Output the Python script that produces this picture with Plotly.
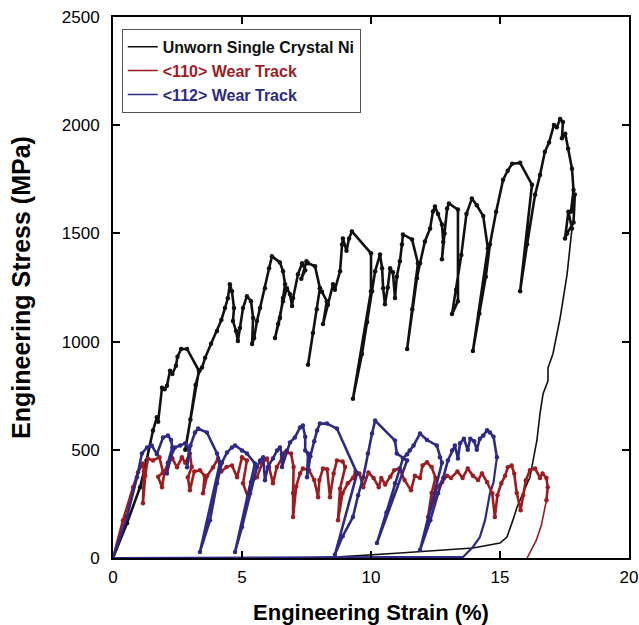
import plotly.graph_objects as go

# ---------------- data ----------------
# Unworn single crystal Ni: serrated loading part
unworn_strain = [0, 0.54, 1.05, 1.3, 1.55, 1.7, 1.75, 1.9, 2.0, 2.09, 2.21, 2.3, 2.44, 2.5, 2.64, 2.87, 3.33,
                 2.8, 3.0, 3.2, 3.35, 3.45, 3.57, 3.8, 4.03, 4.2, 4.34, 4.45, 4.53, 4.61, 4.69, 4.65, 4.77, 4.84,
                 4.92, 5.04, 5.19, 5.35, 5.43, 5.39, 5.47, 5.58, 5.70, 5.89, 6.05, 6.16, 6.47, 6.59, 6.67, 6.59,
                 6.47, 6.28, 6.40, 6.59, 6.74, 6.86, 6.94, 6.98, 7.17, 7.33, 7.45, 7.3, 7.5, 7.56, 7.83, 8.02,
                 7.56, 7.75, 7.9, 8.02, 8.1, 8.29, 8.14, 8.33, 8.53, 8.6, 8.8, 8.88, 8.91, 9.05, 9.15, 9.26,
                 10.0, 10.0, 9.30, 9.65, 9.85, 10.04, 10.16, 10.35, 10.43, 10.47, 10.54, 10.65, 10.74, 10.85,
                 10.93, 11.0, 11.12, 11.2, 11.24, 11.59, 11.82, 11.4, 11.6, 11.78, 11.9, 12.09, 12.29, 12.4,
                 12.48, 12.6, 12.75, 12.8, 12.75, 12.85, 12.95, 13.02, 13.37, 13.37, 13.14, 13.3, 13.5, 13.7,
                 13.91, 14.1, 14.35, 14.53, 13.95, 14.2, 14.45, 14.61, 14.85, 15.12, 15.3, 15.47, 15.78, 16.24,
                 15.78, 16.05, 16.36, 16.55, 16.74, 16.9, 17.09, 17.2, 17.33, 17.44, 17.4, 17.53, 17.64, 17.79,
                 17.85, 17.75, 17.9, 17.85, 17.6, 17.52, 17.65, 17.79]
unworn_stress = [0, 161, 327, 450, 589, 650, 630, 787, 780, 796, 865, 850, 888, 930, 966, 966, 865,
                 500, 640, 800, 865, 880, 925, 990, 1049, 1100, 1155, 1200, 1265, 1233, 1155, 1095, 1049, 1003,
                 1063, 1155, 1210, 1187, 1109, 989, 1017, 1095, 1155, 1247, 1339, 1394, 1366, 1325, 1265, 1201,
                 1109, 1017, 1081, 1187, 1247, 1219, 1164, 1201, 1311, 1362, 1330, 1290, 1371, 1362, 1348, 1247,
                 893, 1040, 1150, 1247, 1230, 1187, 1081, 1170, 1265, 1240, 1325, 1449, 1477, 1420, 1477, 1509,
                 1408, 1233, 736, 943, 1090, 1233, 1325, 1403, 1339, 1247, 1173, 1250, 1339, 1320,
                 1201, 1300, 1371, 1449, 1495, 1472, 1362, 966, 1150, 1293, 1362, 1463, 1523, 1601,
                 1624, 1590, 1541, 1460, 1380, 1500, 1615, 1638, 1610, 1187, 1127, 1240, 1400, 1590,
                 1661, 1630, 1580, 1431, 957, 1130, 1300, 1449, 1600, 1748, 1790, 1822, 1826, 1725,
                 1233, 1450, 1679, 1770, 1877, 1920, 2001, 1990, 2029, 2015, 1940, 1960, 1891, 1799,
                 1700, 1600, 1680, 1550, 1500, 1477, 1600, 1523]
# Unworn: final unloading branch
unworn_unload_strain = [17.79, 17.6, 17.33, 17.05, 16.86, 16.86, 16.67, 16.55, 16.43, 16.28, 16.16,
                        15.89, 15.66, 15.5, 15.27, 15.0, 13.95, 11.12, 8.8, 7.25]
unworn_unload_stress = [1523, 1311, 1109, 943, 879, 819, 759, 667, 543, 451, 373,
                        299, 235, 175, 97, 69, 46, 23, 5, 0]

# <110> wear track
w110_strain = [0, 0.39, 0.78, 0.97, 1.16, 1.2, 1.16, 1.25, 1.35, 1.55, 1.8, 1.94, 1.75, 1.9, 2.0, 2.13, 2.3,
               2.48, 2.67, 2.8, 2.98, 3.05, 2.9, 2.98, 3.15, 3.37, 3.55, 3.49, 3.65, 3.88, 4.07, 4.2, 4.4,
               4.61, 4.81, 5.0, 5.19, 5.04, 5.23, 5.35, 5.58, 5.78, 5.97, 6.05, 6.2, 6.35, 6.55, 6.67, 6.9,
               7.0, 6.98, 6.98, 7.1, 7.25, 7.36, 7.6, 7.8, 7.95, 8.0, 8.14, 8.3, 8.41, 8.55, 8.68, 8.9, 9.0,
               8.8, 8.72, 8.9, 9.1, 9.3, 9.4, 9.55, 9.7, 9.9, 10.1, 10.3, 10.4, 10.55, 10.75, 10.9, 11.1,
               11.3, 11.55, 11.7, 11.9, 12.0, 12.17, 12.35, 12.5, 12.35, 12.21, 12.45, 12.55, 12.75, 12.95,
               13.1, 13.35, 13.55, 13.75, 13.95, 14.15, 14.3, 14.5, 14.7, 14.8, 14.9, 15.05, 15.2, 15.3,
               15.45, 15.55, 15.65, 15.8, 15.9, 16.0, 16.16, 16.36, 16.55, 16.65, 16.8, 16.85, 16.8]
w110_stress = [0, 175, 327, 396, 437, 400, 253, 380, 460, 451, 465, 396, 375, 327, 400, 437, 460,
               419, 465, 440, 483, 420, 373, 313, 400, 405, 380, 299, 380, 419, 460, 400, 420,
               428, 373, 465, 450, 345, 281, 350, 373, 437, 460, 420, 345, 420, 465, 488, 483,
               420, 300, 189, 330, 391, 414, 405, 360, 281, 360, 414, 410, 281, 390, 451, 446, 420,
               320, 175, 300, 345, 370, 400, 390, 327, 395, 370, 327, 370, 340, 375, 405, 414,
               360, 313, 380, 370, 428, 442, 420, 370, 300, 189, 267, 327, 350, 380,
               370, 400, 370, 414, 380, 360, 391, 350, 299, 189, 290, 345, 380, 419,
               428, 391, 300, 221, 290, 359, 405, 414, 370, 391, 370, 327, 267]
w110_unload_strain = [16.8, 16.6, 16.4, 16.05]
w110_unload_stress = [267, 150, 80, 0]

# <112> wear track
w112_strain = [0, 0.54, 0.93, 1.12, 1.32, 1.5, 1.7, 1.94, 2.13, 2.25, 2.3, 2.13, 2.09, 2.25, 2.4, 2.6, 2.8,
               2.95, 2.87, 3.0, 3.18, 3.3, 3.64, 4.03, 4.15, 3.37, 3.76, 4.03, 4.22, 4.42, 4.61, 4.73, 5.0,
               5.19, 5.5, 4.73, 5.0, 5.31, 5.58, 5.7, 5.82, 5.89, 6.0, 6.2, 6.36, 6.47, 6.55, 6.55, 6.74,
               6.86, 7.05, 7.25, 7.36, 7.45, 7.45, 7.56, 7.52, 7.65, 7.8, 7.91, 8.02, 8.29, 8.68, 9.46,
               8.6, 8.9, 9.3, 9.5, 9.7, 9.88, 10.04, 10.16, 10.93, 11.0, 11.4, 10.23, 10.6, 10.93, 11.12,
               11.24, 11.4, 11.5, 11.65, 11.9, 12.17, 12.55, 12.67, 12.75, 11.9, 12.3, 12.6, 12.8, 12.98,
               13.14, 13.25, 13.37, 13.45, 13.6, 13.75, 13.85, 14.0, 14.1, 14.22, 14.35, 14.5, 14.61,
               14.75, 14.88]
w112_stress = [0, 189, 373, 483, 511, 520, 480, 557, 566, 545, 511, 440, 391, 470, 511, 520, 530,
               500, 419, 520, 580, 598, 580, 483, 442, 28, 175, 345, 440, 488, 511, 520, 497,
               483, 437, 28, 143, 299, 420, 451, 465, 359, 420, 460, 497, 511, 480, 420, 497,
               534, 557, 603, 612, 560, 497, 483, 373, 470, 540, 589, 621, 621, 598, 391,
               15, 100, 189, 290, 373, 483, 575, 635, 543, 483, 451, 69, 210, 345, 410,
               460, 480, 497, 520, 575, 545, 520, 465, 440, 37, 175, 299, 370, 451,
               497, 520, 460, 530, 551, 500, 551, 540, 500, 551, 566, 590, 580,
               560, 465]
w112_unload_strain = [14.88, 14.75, 14.61, 14.42, 14.22, 13.95, 13.57, 0]
w112_unload_stress = [465, 350, 299, 175, 97, 51, 5, 0]

x_ticks = [0, 5, 10, 15, 20]
y_ticks = [0, 500, 1000, 1500, 2000, 2500]

names = ["Unworn Single Crystal Ni", "&lt;110&gt; Wear Track", "&lt;112&gt; Wear Track"]
colors = ["#111111", "#9e1b1f", "#2d2a86"]

FONT = "Liberation Sans, Arial, sans-serif"

# ---------------- figure ----------------
fig = go.Figure()
main_series = [(unworn_strain, unworn_stress), (w110_strain, w110_stress), (w112_strain, w112_stress)]
unload_series = [(unworn_unload_strain, unworn_unload_stress), (w110_unload_strain, w110_unload_stress),
                 (w112_unload_strain, w112_unload_stress)]
unload_widths = [1.6, 1.6, 2.2]
for (ux, uy), c, w in zip(unload_series, colors, unload_widths):
    fig.add_trace(go.Scatter(x=ux, y=uy, mode="lines", line=dict(color=c, width=w),
                             showlegend=False, hoverinfo="skip"))
for (sx, sy), c in zip(main_series, colors):
    fig.add_trace(go.Scatter(x=sx, y=sy, mode="lines+markers",
                             line=dict(color=c, width=2.6),
                             marker=dict(color=c, size=4.5),
                             showlegend=False, hoverinfo="skip"))
for n, c in zip(names, colors):
    fig.add_trace(go.Scatter(x=[None], y=[None], mode="lines",
                             line=dict(color=c, width=1.5),
                             name="<b><span style='color:%s'>%s</span></b>" % (c, n)))

axis_common = dict(showline=True, linewidth=2, linecolor="black", mirror="ticks",
                   ticks="inside", ticklen=7, tickwidth=2, tickcolor="black",
                   showgrid=False, zeroline=False, automargin=False,
                   tickfont=dict(family=FONT, size=17, color="black"))

fig.update_layout(
    width=639, height=625,
    margin=dict(l=113, r=10, t=17, b=67),
    paper_bgcolor="white", plot_bgcolor="white",
    font=dict(family=FONT, color="black"),
    xaxis=dict(range=[0, 20], tickvals=x_ticks, ticktext=[str(v) for v in x_ticks],
               ticklabelstandoff=3,
               title=dict(text="<b>Engineering Strain (%)</b>", font=dict(size=22), standoff=20),
               **axis_common),
    yaxis=dict(range=[0, 2500], tickvals=y_ticks, ticktext=[str(v) for v in y_ticks],
               ticklabelstandoff=8,
               title=dict(text="<b>Engineering Stress (MPa)</b>", font=dict(size=25), standoff=24),
               **axis_common),
    legend=dict(x=0.017, y=0.978, xanchor="left", yanchor="top",
                bgcolor="white", bordercolor="#555555", borderwidth=1,
                font=dict(family=FONT, size=16),
                itemwidth=30, tracegroupgap=0),
)

fig.write_html("out.html", config={"displayModeBar": False},
               post_script="document.body.style.margin='0';")
